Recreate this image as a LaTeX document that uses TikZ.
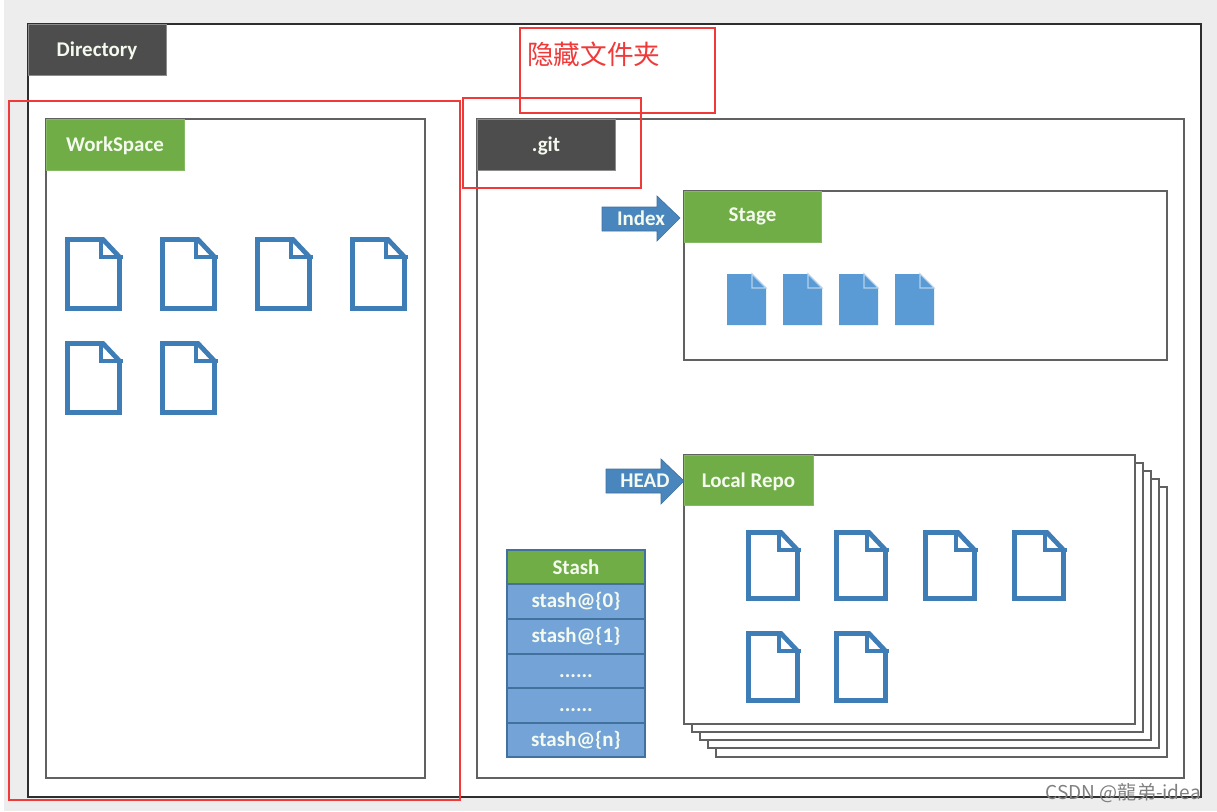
\documentclass[tikz,border=0pt]{standalone}
\usepackage{fontspec}
\setmainfont{Carlito}
\newfontfamily\cjkfont{Noto Sans CJK SC}
\usetikzlibrary{calc}
\definecolor{bggrey}{HTML}{EDEDED}
\definecolor{tabdark}{HTML}{4D4D4D}
\definecolor{tabgreen}{HTML}{70AD47}
\definecolor{docblue}{HTML}{3F7DB6}
\definecolor{docfill}{HTML}{5B9BD5}
\definecolor{rowblue}{HTML}{74A3D8}
\definecolor{rowline}{HTML}{41719C}
\definecolor{arrowblue}{HTML}{4A86BE}
\definecolor{markred}{HTML}{F03A3A}
\definecolor{labelwhite}{HTML}{F4FAEE}
\newcommand\labelfont{\bfseries\fontsize{15.7}{17}\selectfont}
\newcommand\low[2][5.6pt]{\raisebox{-#1}[0pt][0pt]{#2}}
\tikzset{
  x=0.75pt,y=-0.75pt,
  boxbase/.style={rectangle,inner sep=0pt,outer sep=0pt,anchor=center},
  outerframe/.style={boxbase,draw=black!82,line width=2.1pt,fill=white},
  innerframe/.style={boxbase,draw=black!62,line width=1.25pt,fill=white},
  darktab/.style={boxbase,fill=tabdark,draw=black!45,line width=.6pt,text=labelwhite,font=\labelfont},
  greentab/.style={boxbase,fill=tabgreen,draw=tabgreen!85!white,line width=.6pt,text=labelwhite,font=\labelfont},
  stashrow/.style={boxbase,fill=rowblue,draw=rowline,line width=1pt,text=labelwhite,font=\labelfont},
  redmark/.style={boxbase,draw=markred,line width=1.6pt},
  doc/.style={draw=docblue,line width=3.6pt,miter limit=3,fill=white},
  docsolid/.style={draw=none,fill=docfill},
  blockarrow/.style={fill=arrowblue,draw=arrowblue!85!black,line width=.5pt},
  arrowlabel/.style={inner sep=0pt,text=labelwhite,font=\labelfont},
}
\newcommand\rectnode[6][]{%
  \pgfmathsetmacro\rw{(#5-#3)*0.75}%
  \pgfmathsetmacro\rh{(#6-#4)*0.75}%
  \node[#1,minimum width=\rw pt,minimum height=\rh pt] (#2) at ({(#3+#5)/2},{(#4+#6)/2}) {};}
\newcommand\tabnode[7][]{%
  \pgfmathsetmacro\rw{(#5-#3)*0.75}%
  \pgfmathsetmacro\rh{(#6-#4)*0.75}%
  \node[#1,minimum width=\rw pt,minimum height=\rh pt] (#2) at ({(#3+#5)/2},{(#4+#6)/2}) {#7};}
\newcommand\outlinedoc[4]{%
  \draw[doc] (#1+2.5,#2+2.5) -- (#1+#3-19,#2+2.5) -- (#1+#3-2.5,#2+20) -- (#1+#3-2.5,#2+#4-2.5) -- (#1+2.5,#2+#4-2.5) -- cycle;
  \draw[doc,fill=none] (#1+#3-21,#2) -- (#1+#3-21,#2+20) -- (#1+#3+1,#2+20);}
\newcommand\soliddoc[2]{%
  \fill[docsolid] (#1,#2) -- (#1+25,#2) -- (#1+39,#2+14) -- (#1+39,#2+51) -- (#1,#2+51) -- cycle;
  \draw[white!55!docfill,line width=.8pt] (#1+25,#2) -- (#1+25,#2+14) -- (#1+39,#2+14) -- cycle;}
\begin{document}
\begin{tikzpicture}
\useasboundingbox (0,0) rectangle (1217,811);
\fill[white] (0,0) rectangle (1217,811);
\fill[bggrey] (4,0) rectangle (1217,811);

% Directory
\rectnode[outerframe]{dirframe}{28}{24}{1201}{797}
\tabnode[darktab]{dirtab}{28}{24}{166}{75}{\low{Directory}}

% WorkSpace
\rectnode[innerframe]{wsframe}{46}{119}{425}{778}
\tabnode[greentab]{wstab}{46}{119}{184}{170}{\low{WorkSpace}}
\outlinedoc{65}{237}{57}{74}
\outlinedoc{160}{237}{57}{74}
\outlinedoc{255}{237}{57}{74}
\outlinedoc{350}{237}{57}{74}
\outlinedoc{65}{341}{57}{74}
\outlinedoc{160}{341}{57}{74}

% .git
\rectnode[innerframe]{gitframe}{477}{119}{1184}{778}
\tabnode[darktab]{gittab}{477}{119}{615}{170}{\low{.git}}

% Stage
\rectnode[innerframe]{stageframe}{684}{191}{1167}{360}
\tabnode[greentab]{stagetab}{684}{191}{821}{242}{\low[4pt]{Stage}}
\soliddoc{727}{274}
\soliddoc{783}{274}
\soliddoc{839}{274}
\soliddoc{895}{274}

% Index arrow
\draw[blockarrow] (602,207) -- (657,207) -- (657,196) -- (680,218) -- (657,241) -- (657,231) -- (602,231) -- cycle;
\node[arrowlabel] (indexlabel) at (641,218.5) {Index};

% Local Repo stack
\rectnode[innerframe]{repo4}{716}{487}{1167}{757}
\rectnode[innerframe]{repo3}{708}{479}{1159}{748}
\rectnode[innerframe]{repo2}{700}{471}{1151}{740}
\rectnode[innerframe]{repo1}{692}{463}{1143}{732}
\rectnode[innerframe]{repo0}{684}{455}{1135}{724}
\tabnode[greentab]{repotab}{684}{455}{813}{505}{\low{Local Repo}}
\outlinedoc{746}{530}{54}{71}
\outlinedoc{834}{530}{54}{71}
\outlinedoc{923}{530}{54}{71}
\outlinedoc{1012}{530}{54}{71}
\outlinedoc{746}{631}{54}{72}
\outlinedoc{834}{631}{54}{72}

% HEAD arrow
\draw[blockarrow] (606,469) -- (661,469) -- (661,459) -- (684,481) -- (661,504) -- (661,493) -- (606,493) -- cycle;
\node[arrowlabel] (headlabel) at (645,481) {HEAD};

% Stash
\tabnode[stashrow,fill=tabgreen]{stashhead}{507}{550}{645}{584}{Stash}
\tabnode[stashrow]{stash0}{507}{584}{645}{619}{stash@\{0\}}
\tabnode[stashrow]{stash1}{507}{619}{645}{654}{stash@\{1\}}
\tabnode[stashrow]{stash2}{507}{654}{645}{688}{\low[4.7pt]{......}}
\tabnode[stashrow]{stash3}{507}{688}{645}{723}{\low[4.7pt]{......}}
\tabnode[stashrow]{stashn}{507}{723}{645}{757}{stash@\{n\}}

% Red annotations
\rectnode[redmark]{redws}{9}{101}{460}{800}
\rectnode[redmark]{redgit}{463}{98}{641}{188}
\rectnode[redmark]{redhidden}{520}{28}{715}{113}
\node[inner sep=0pt,anchor=west,text=markred,font=\cjkfont\fontsize{20}{24}\selectfont] (hiddenlabel) at (527,54) {隐藏文件夹};

% Watermark
\node[inner sep=0pt,anchor=east,text=black!50,font=\cjkfont\fontsize{14.3}{16}\selectfont] (watermark) at (1201,793) {CSDN @龍弟-idea};
\end{tikzpicture}
\end{document}
